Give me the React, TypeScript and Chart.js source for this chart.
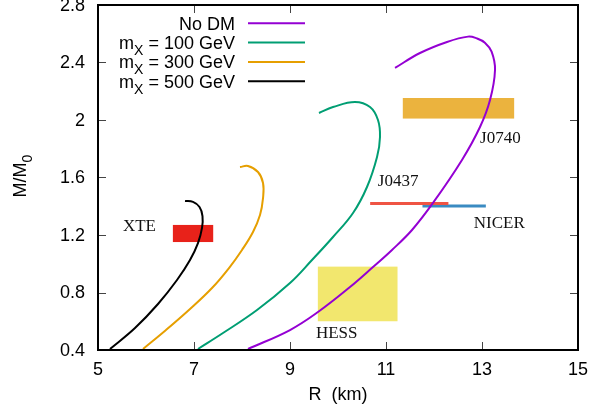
import React, { useEffect, useRef } from "react";
import { Chart, registerables } from "chart.js";

Chart.register(...registerables);

// ---- axis ranges / ticks ----
const xMin = 5, xMax = 15, xStep = 2;
const yMin = 0.4, yMax = 2.8, yStep = 0.4;
const xTickLabels = ["5", "7", "9", "11", "13", "15"];
const yTickLabels = ["0.4", "0.8", "1.2", "1.6", "2", "2.4", "2.8"];

// ---- mass-radius curves (R in km, M/M0) ----
const noDmR = [8.125, 9.0, 9.583, 10.25, 10.729, 11.125, 11.542, 11.979, 12.583, 12.958, 13.167, 13.271, 13.2, 13.06, 12.89, 12.71, 12.271, 11.708, 11.188];
const noDmM = [0.407, 0.539, 0.664, 0.838, 0.977, 1.096, 1.235, 1.423, 1.722, 1.951, 2.139, 2.348, 2.475, 2.538, 2.568, 2.58, 2.543, 2.466, 2.362];

const dm100R = [7.083, 7.604, 8.313, 9.0, 9.458, 9.896, 10.313, 10.604, 10.813, 10.875, 10.833, 10.667, 10.354, 9.896, 9.604];
const dm100M = [0.407, 0.518, 0.678, 0.866, 1.026, 1.186, 1.353, 1.534, 1.743, 1.882, 2.0, 2.09, 2.125, 2.09, 2.049];

const dm300R = [5.938, 6.417, 6.917, 7.375, 7.729, 8.0, 8.229, 8.375, 8.438, 8.438, 8.333, 8.125, 7.958];
const dm300M = [0.407, 0.539, 0.685, 0.831, 0.97, 1.096, 1.221, 1.339, 1.457, 1.562, 1.638, 1.68, 1.673];

const dm500R = [5.25, 5.771, 6.25, 6.646, 6.917, 7.083, 7.167, 7.177, 7.115, 6.979, 6.813];
const dm500M = [0.407, 0.553, 0.72, 0.887, 1.026, 1.144, 1.249, 1.332, 1.395, 1.43, 1.437];

const curveLabels = ["No DM", "m_X = 100 GeV", "m_X = 300 GeV", "m_X = 500 GeV"];
const curveColors = ["#9400d3", "#009e73", "#e69f00", "#000000"];

// ---- observational constraints ----
const j0437R = [10.67, 12.3];
const j0437M = [1.42, 1.42];
const nicerR = [11.76, 13.08];
const nicerM = [1.402, 1.402];

// boxes: [Rmin, Rmax, Mmin, Mmax]
const boxNames = ["HESS", "J0740", "XTE"];
const boxRmin = [9.58, 11.35, 6.56];
const boxRmax = [11.24, 13.67, 7.4];
const boxMmin = [0.6, 2.01, 1.151];
const boxMmax = [0.98, 2.153, 1.27];
const boxColors = ["#f2e76e", "#ebb33e", "#e8221a"];

// text annotations
const noteTexts = ["HESS", "XTE", "J0437", "J0740", "NICER"];
const noteR = [9.54, 5.52, 10.83, 12.96, 12.83];
const noteM = [0.515, 1.256, 1.571, 1.87, 1.28];

const SANS = "'Liberation Sans', Arial, sans-serif";
const SERIF = "'Liberation Serif', 'Times New Roman', serif";

function pts(r: number[], m: number[]) {
  return r.map((v, i) => ({ x: v, y: m[i] }));
}

function drawSubText(ctx: CanvasRenderingContext2D, text: string, x: number, y: number, size: number, subSize: number, subDy: number, measureOnly = false) {
  const parts: { t: string; sub: boolean }[] = [];
  let i = 0;
  let buf = "";
  while (i < text.length) {
    if (text[i] === "_" && i + 1 < text.length) {
      if (buf) parts.push({ t: buf, sub: false });
      buf = "";
      parts.push({ t: text[i + 1], sub: true });
      i += 2;
    } else {
      buf += text[i];
      i++;
    }
  }
  if (buf) parts.push({ t: buf, sub: false });
  let w = 0;
  for (const p of parts) {
    ctx.font = `${p.sub ? subSize : size}px ${SANS}`;
    const pw = ctx.measureText(p.t).width;
    if (!measureOnly) ctx.fillText(p.t, x + w, y + (p.sub ? subDy : 0));
    w += pw;
  }
  return w;
}

const decorPlugin = {
  id: "decor",
  beforeDatasetsDraw(chart: any) {
    const { ctx, chartArea, scales } = chart;
    const xs = scales.x, ys = scales.y;
    ctx.save();
    ctx.beginPath();
    ctx.rect(chartArea.left, chartArea.top, chartArea.right - chartArea.left, chartArea.bottom - chartArea.top);
    ctx.clip();
    for (let i = 0; i < boxNames.length; i++) {
      const x0 = xs.getPixelForValue(boxRmin[i]);
      const x1 = xs.getPixelForValue(boxRmax[i]);
      const y0 = ys.getPixelForValue(boxMmax[i]);
      const y1 = ys.getPixelForValue(boxMmin[i]);
      ctx.fillStyle = boxColors[i];
      ctx.fillRect(x0, y0, x1 - x0, y1 - y0);
    }
    ctx.restore();
  },
  afterDatasetsDraw(chart: any) {
    const { ctx, chartArea, scales } = chart;
    const xs = scales.x, ys = scales.y;
    const { left, right, top, bottom } = chartArea;
    ctx.save();
    // annotations
    ctx.fillStyle = "#111";
    ctx.font = `17px ${SERIF}`;
    ctx.textAlign = "left";
    ctx.textBaseline = "middle";
    for (let i = 0; i < noteTexts.length; i++) {
      ctx.fillText(noteTexts[i], xs.getPixelForValue(noteR[i]), ys.getPixelForValue(noteM[i]));
    }
    // ticks (inward, mirrored) + tick labels
    ctx.strokeStyle = "#444";
    ctx.lineWidth = 1;
    const tl = 8;
    ctx.font = `18px ${SANS}`;
    ctx.fillStyle = "#000";
    xTickLabels.forEach((lab) => {
      const v = Number(lab);
      const px = Math.round(xs.getPixelForValue(v)) + 0.5;
      ctx.beginPath();
      ctx.moveTo(px, bottom);
      ctx.lineTo(px, bottom - tl);
      ctx.moveTo(px, top);
      ctx.lineTo(px, top + tl);
      ctx.stroke();
      ctx.textAlign = "center";
      ctx.textBaseline = "middle";
      ctx.fillText(lab, xs.getPixelForValue(v), bottom + 20);
    });
    yTickLabels.forEach((lab) => {
      const v = Number(lab);
      const py = Math.round(ys.getPixelForValue(v)) + 0.5;
      ctx.beginPath();
      ctx.moveTo(left, py);
      ctx.lineTo(left + tl, py);
      ctx.moveTo(right, py);
      ctx.lineTo(right - tl, py);
      ctx.stroke();
      ctx.textAlign = "right";
      ctx.textBaseline = "middle";
      ctx.fillText(lab, left - 13, ys.getPixelForValue(v) + 1);
    });
    // frame
    ctx.strokeStyle = "#000";
    ctx.lineWidth = 2;
    ctx.strokeRect(left, top, right - left, bottom - top);

    // legend
    ctx.fillStyle = "#000";
    ctx.textAlign = "left";
    ctx.textBaseline = "alphabetic";
    const textRight = 235;
    for (let i = 0; i < curveLabels.length; i++) {
      const ly = 23.3 + i * 19.3;
      const w = drawSubText(ctx, curveLabels[i], 0, 0, 18, 14, 6, true);
      ctx.fillStyle = "#000";
      drawSubText(ctx, curveLabels[i], textRight - w, ly + 6.5, 18, 14, 6);
      ctx.strokeStyle = curveColors[i];
      ctx.lineWidth = 2;
      ctx.beginPath();
      ctx.moveTo(248, ly);
      ctx.lineTo(305, ly);
      ctx.stroke();
    }

    // axis titles
    ctx.fillStyle = "#000";
    ctx.textAlign = "center";
    ctx.textBaseline = "middle";
    ctx.font = `18px ${SANS}`;
    ctx.fillText("R  (km)", (left + right) / 2, 395);

    ctx.save();
    ctx.translate(19, 176);
    ctx.rotate(-Math.PI / 2);
    ctx.textAlign = "left";
    ctx.textBaseline = "alphabetic";
    const tw = drawSubText(ctx, "M/M_0", 0, 0, 18, 14, 6, true);
    drawSubText(ctx, "M/M_0", -tw / 2, 6.5, 18, 14, 6);
    ctx.restore();

    ctx.restore();
  },
};

export default function App() {
  const ref = useRef<HTMLCanvasElement | null>(null);
  useEffect(() => {
    if (!ref.current) return;
    const curves = [
      [noDmR, noDmM],
      [dm100R, dm100M],
      [dm300R, dm300M],
      [dm500R, dm500M],
    ];
    const datasets: any[] = curves.map((c, i) => ({
      label: curveLabels[i],
      data: pts(c[0], c[1]),
      showLine: true,
      borderColor: curveColors[i],
      borderWidth: 2,
      pointRadius: 0,
      tension: 0.4,
      fill: false,
      order: 1,
    }));
    datasets.push({
      label: "J0437",
      data: pts(j0437R, j0437M),
      showLine: true,
      borderColor: "#ef5444",
      borderWidth: 3,
      pointRadius: 0,
      order: 2,
    });
    datasets.push({
      label: "NICER",
      data: pts(nicerR, nicerM),
      showLine: true,
      borderColor: "#3a8bc2",
      borderWidth: 3,
      pointRadius: 0,
      order: 2,
    });

    const chart = new Chart(ref.current, {
      type: "scatter",
      data: { datasets },
      options: {
        animation: false,
        responsive: false,
        devicePixelRatio: 1,
        layout: { padding: { top: 5, right: 11, left: 0, bottom: 0 } },
        plugins: { legend: { display: false }, tooltip: { enabled: false } },
        scales: {
          x: {
            type: "linear",
            min: xMin,
            max: xMax,
            grid: { display: false, drawTicks: false },
            border: { display: false },
            ticks: { display: false, stepSize: xStep },
            afterFit: (s: any) => {
              s.height = 67;
            },
          },
          y: {
            type: "linear",
            min: yMin,
            max: yMax,
            grid: { display: false, drawTicks: false },
            border: { display: false },
            ticks: { display: false, stepSize: yStep },
            afterFit: (s: any) => {
              s.width = 98;
            },
          },
        },
      },
      plugins: [decorPlugin],
    } as any);
    return () => chart.destroy();
  }, []);
  return (
    <div style={{ position: "fixed", left: 0, top: 0, width: 589, height: 417, background: "#fff" }}>
      <canvas ref={ref} width={589} height={417} style={{ width: 589, height: 417, display: "block" }} />
    </div>
  );
}
